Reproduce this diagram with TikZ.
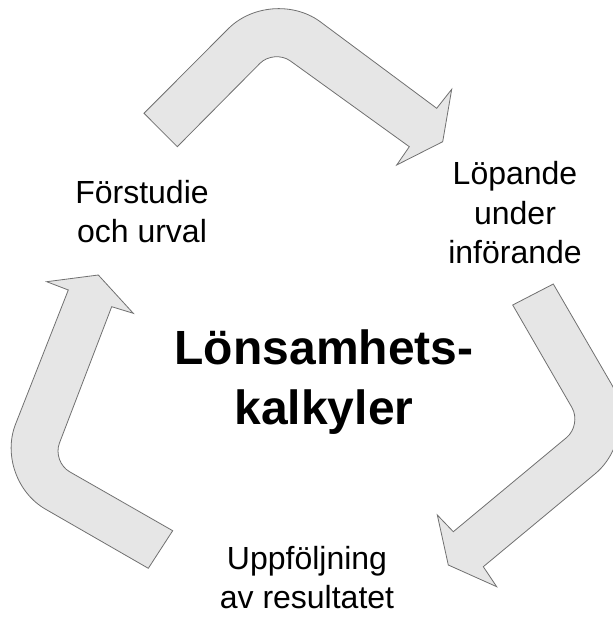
\documentclass[tikz,border=0pt]{standalone}
\usepackage{fontspec}
\setmainfont{Liberation Sans}
\tikzset{
every picture/.style={
line width=0.8pt
}}
\definecolor{arrowfill}{HTML}{E6E6E6}
\definecolor{arrowline}{HTML}{707070}

\begin{document}
\begin{tikzpicture}[x=1pt, y=-1pt,
bendarrow/.style = {fill=arrowfill, draw=arrowline},
phase/.style = {align=center, anchor=base, inner sep=0pt, font=\fontsize{32}{39}\selectfont},
centre/.style = {align=center, anchor=base, inner sep=0pt, font=\fontsize{48}{60}\selectfont\bfseries}]
\useasboundingbox (0,0) rectangle (612,617);
% top arrow
\draw[bendarrow] (144,113.3) -- (228.4,28.6) .. controls (251.8,5.2) and (292.6,1.9) .. (319.5,21.2)
  -- (436.7,108.3) -- (451.7,89.3) -- (442.7,141.7) -- (396.7,165) -- (409.3,146.7)
  -- (290.3,60.9) .. controls (281.4,54.5) and (267.7,55.6) .. (260,63.3) -- (177.3,146.7) -- cycle;
% right arrow
\draw[bendarrow] (553.3,284) -- (611.1,383.5) .. controls (627.8,412.1) and (620.6,452.6) .. (595.1,473.8)
  -- (483.3,566.7) -- (496.7,586.7) -- (448.3,565) -- (437.3,515) -- (453.3,531.7)
  -- (566.5,437.6) .. controls (575,430.6) and (577.4,417) .. (571.9,407.5) -- (512.7,305) -- cycle;
% left arrow
\draw[bendarrow] (172.7,530.7) -- (69.7,471.8) .. controls (60.1,466.4) and (55.5,453.5) .. (59.4,443.2)
  -- (111.7,306.7) -- (133.3,313.3) -- (98.3,275) -- (46.7,281.7) -- (68.3,290)
  -- (15.6,424) .. controls (3.4,454.9) and (17,493.1) .. (45.9,509.4) -- (148.3,568.3) -- cycle;

% base = last line
\node[phase] at (142,243) (fs) {Förstudie\\och urval};
\node[phase] at (515,263) (lp) {Löpande\\under\\införande};
\node[centre] at (324,424) (lk) {Lönsamhets-\\kalkyler};
\node[phase] at (307,608) (uf) {Uppföljning\\av resultatet};

\end{tikzpicture}
\end{document}
